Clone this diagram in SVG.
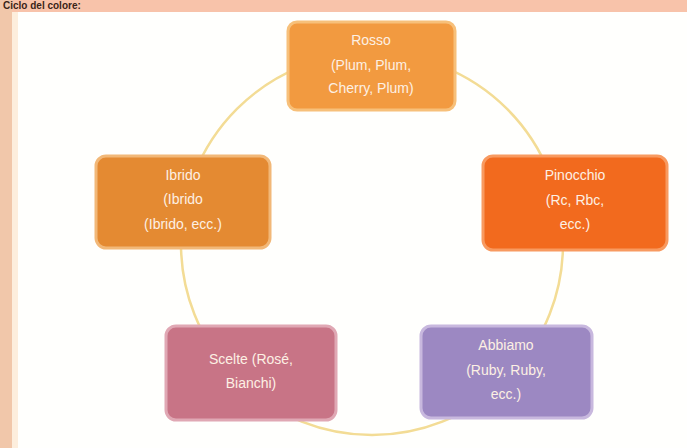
<svg xmlns="http://www.w3.org/2000/svg" width="687" height="448" viewBox="0 0 687 448">
<style>
.node rect{stroke-width:3;}
.t{font-family:"Liberation Sans",Arial,sans-serif;font-size:14px;fill:#fdf0e4;text-anchor:middle;}
</style>
<rect x="0" y="0" width="687" height="448" fill="#fffffd"/>
<rect x="0" y="0" width="687" height="12" fill="#f8c3aa"/>
<rect x="0" y="0" width="12" height="448" fill="#f1c7aa"/>
<rect x="12" y="12" width="6" height="436" fill="#fdeedd"/>
<text x="3" y="9" font-family="Liberation Sans,Arial,sans-serif" font-size="10" font-weight="bold" fill="#3a2418">Ciclo del colore:</text>
<g id="connectors">
<circle cx="372" cy="244" r="191" fill="none" stroke="#f3dc95" stroke-width="2.5"/>
</g>
<g id="n1" class="node">
<rect x="288" y="22" width="167" height="88" rx="9" fill="#f29a40" stroke="#f7c07a"/>
<text class="t" x="371" y="45">Rosso</text>
<text class="t" x="371" y="70">(Plum, Plum,</text>
<text class="t" x="371" y="93">Cherry, Plum)</text>
</g>
<g id="n2" class="node">
<rect x="483" y="156" width="184" height="94" rx="10" fill="#f26a1e" stroke="#f89a60"/>
<text class="t" x="575" y="180">Pinocchio</text>
<text class="t" x="575" y="205">(Rc, Rbc,</text>
<text class="t" x="575" y="229">ecc.)</text>
</g>
<g id="n3" class="node">
<rect x="421" y="326" width="171" height="92" rx="10" fill="#9c88c2" stroke="#c8b8de"/>
<text class="t" x="506" y="350">Abbiamo</text>
<text class="t" x="506" y="375">(Ruby, Ruby,</text>
<text class="t" x="506" y="399">ecc.)</text>
</g>
<g id="n4" class="node">
<rect x="166" y="326" width="170" height="94" rx="10" fill="#c87486" stroke="#e0a8b4"/>
<text class="t" x="251" y="364">Scelte (Rosé,</text>
<text class="t" x="251" y="388">Bianchi)</text>
</g>
<g id="n5" class="node">
<rect x="96" y="156" width="174" height="92" rx="10" fill="#e48a32" stroke="#f2b878"/>
<text class="t" x="183" y="180">Ibrido</text>
<text class="t" x="183" y="204">(Ibrido</text>
<text class="t" x="183" y="229">(Ibrido, ecc.)</text>
</g>
</svg>
